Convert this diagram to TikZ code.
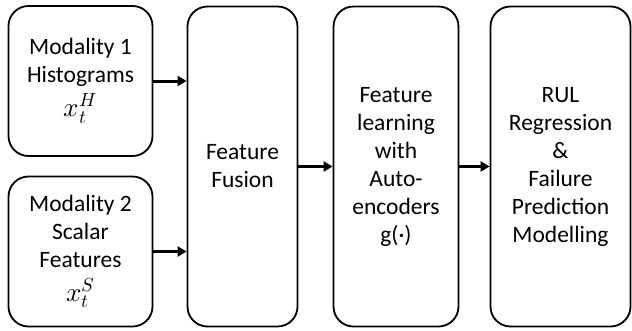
\documentclass[tikz,border=0pt]{standalone}
\usepackage{unicode-math}
\setmainfont{Carlito}
\setmathfont{Latin Modern Math}
\usetikzlibrary{arrows.meta}

\newcommand{\modvar}[2]{{\fontsize{27}{28}\selectfont$x_{#1}^{#2}$}}

\begin{document}
\begin{tikzpicture}[x=1pt, y=-1pt,
    stage/.style={draw, line width=1.8pt, rounded corners=20pt, align=center,
      font=\fontsize{23.5}{28}\selectfont, inner sep=0pt},
    flow/.style={line width=3pt, -{Triangle[length=9pt,width=10pt]}}]

    \useasboundingbox (0, 0) rectangle (632, 330);

    \node[stage, minimum width=144pt, minimum height=150pt] (hist) at (80.5, 81){Modality 1\\Histograms\\[6pt]\modvar{t}{H}};
    \node[stage, minimum width=144pt, minimum height=150pt] (scalar) at (80.5, 251.5){Modality 2\\Scalar\\Features\\[6pt]\modvar{t}{S}};

    \node[stage, minimum width=110pt, minimum height=320pt] (fusion) at (242.5, 166.5){Feature\\Fusion};
    \node[stage, minimum width=125pt, minimum height=320pt] (learn) at (396, 166.5){Feature\\learning\\with\\Auto-\\encoders\\g(·)};
    \node[stage, minimum width=140pt, minimum height=320pt] (rul) at (560.5, 166.5){RUL\\Regression\\\&\\Failure\\Prediction\\Modelling};

    \draw[flow] (hist.east) to (hist.east -| fusion.west);
    \draw[flow] (scalar.east) to (scalar.east -| fusion.west);
    \draw[flow] (fusion.east) to (learn.west);
    \draw[flow] (learn.east) to (rul.west);
  \end{tikzpicture}
\end{document}
